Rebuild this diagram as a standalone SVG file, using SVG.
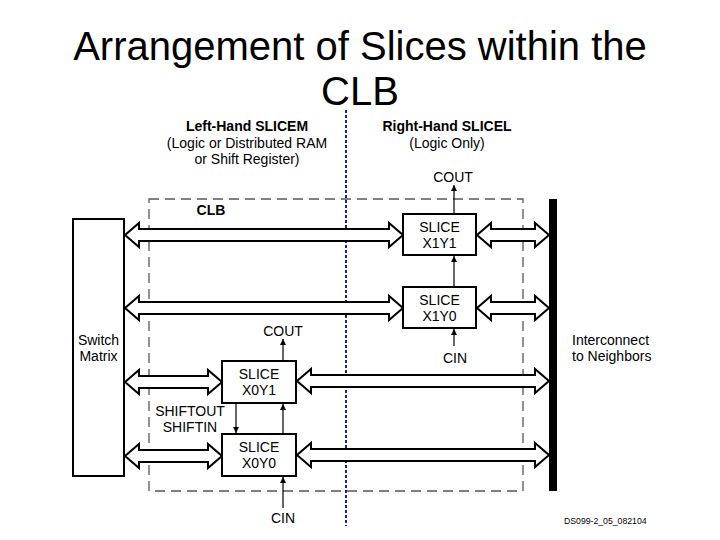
<svg xmlns="http://www.w3.org/2000/svg" width="720" height="540" viewBox="0 0 720 540">
<style>
text{font-family:"Liberation Sans",Arial,sans-serif;fill:#000}
.title{font-size:40px}
.lbl{font-size:14px}
.b{font-weight:bold}
.slice{fill:#fff;stroke:#000;stroke-width:2}
.bus{fill:#fff;stroke:#000;stroke-width:2;stroke-linejoin:miter}
.wire{stroke:#000;stroke-width:1.2;fill:none}
</style>
<defs>
<marker id="ah" viewBox="0 0 8 8" refX="8" refY="4" markerWidth="6" markerHeight="6" markerUnits="userSpaceOnUse" orient="auto">
<path d="M0,0 L8,4 L0,8 z" fill="#000"/>
</marker>
</defs>
<rect width="720" height="540" fill="#fff"/>
<text class="title" x="360" y="60" text-anchor="middle">Arrangement of Slices within the</text>
<text class="title" x="360" y="105" text-anchor="middle">CLB</text>

<line x1="346" y1="110" x2="346" y2="526" stroke="#1a237e" stroke-width="2" stroke-dasharray="3,2"/>
<rect id="clb" x="149" y="199" width="374" height="292" fill="none" stroke="#555" stroke-width="1.3" stroke-dasharray="10,6"/>

<text class="lbl b" x="247" y="131" text-anchor="middle">Left-Hand SLICEM</text>
<text class="lbl" x="247" y="148" text-anchor="middle">(Logic or Distributed RAM</text>
<text class="lbl" x="247" y="164" text-anchor="middle">or Shift Register)</text>
<text class="lbl b" x="447" y="131" text-anchor="middle">Right-Hand SLICEL</text>
<text class="lbl" x="447" y="148" text-anchor="middle">(Logic Only)</text>
<text class="lbl b" x="211" y="215" text-anchor="middle">CLB</text>

<g id="switch-matrix">
<rect x="73" y="219" width="51" height="257" fill="#fff" stroke="#000" stroke-width="2"/>
<text class="lbl" x="98.5" y="345" text-anchor="middle">Switch</text>
<text class="lbl" x="98.5" y="361" text-anchor="middle">Matrix</text>
</g>

<g id="interconnect">
<rect x="549" y="199" width="8" height="292" fill="#000"/>
<text class="lbl" x="572" y="345">Interconnect</text>
<text class="lbl" x="572" y="361">to Neighbors</text>
</g>

<g id="connectors">
<polygon class="bus" points="125,235 139,223 139,229 389,229 389,223 403,235 389,247 389,241 139,241 139,247"/>
<polygon class="bus" points="477,235 491,223 491,229 535,229 535,223 549,235 535,247 535,241 491,241 491,247"/>
<polygon class="bus" points="125,308 139,296 139,302 389,302 389,296 403,308 389,320 389,314 139,314 139,320"/>
<polygon class="bus" points="477,308 491,296 491,302 535,302 535,296 549,308 535,320 535,314 491,314 491,320"/>
<polygon class="bus" points="125,382 139,370 139,376 208,376 208,370 222,382 208,394 208,388 139,388 139,394"/>
<polygon class="bus" points="297,381 311,369 311,375 535,375 535,369 549,381 535,393 535,387 311,387 311,393"/>
<polygon class="bus" points="125,456 139,444 139,450 208,450 208,444 222,456 208,468 208,462 139,462 139,468"/>
<polygon class="bus" points="297,455 311,443 311,449 535,449 535,443 549,455 535,467 535,461 311,461 311,467"/>

<line class="wire" x1="454" y1="214" x2="454" y2="185" marker-end="url(#ah)"/>
<line class="wire" x1="454" y1="287" x2="454" y2="256" marker-end="url(#ah)"/>
<line class="wire" x1="454" y1="346" x2="454" y2="329" marker-end="url(#ah)"/>
<line class="wire" x1="283" y1="361" x2="283" y2="339" marker-end="url(#ah)"/>
<line class="wire" x1="283" y1="434" x2="283" y2="404" marker-end="url(#ah)"/>
<line class="wire" x1="283" y1="508" x2="283" y2="477" marker-end="url(#ah)"/>
<line class="wire" x1="236" y1="403" x2="236" y2="433" marker-end="url(#ah)"/>
</g>

<text class="lbl" x="453" y="182" text-anchor="middle">COUT</text>
<text class="lbl" x="455" y="363" text-anchor="middle">CIN</text>
<text class="lbl" x="283" y="336" text-anchor="middle">COUT</text>
<text class="lbl" x="283" y="523" text-anchor="middle">CIN</text>
<text class="lbl" x="190" y="416" text-anchor="middle">SHIFTOUT</text>
<text class="lbl" x="190" y="432" text-anchor="middle">SHIFTIN</text>

<g id="slice-x1y1">
<rect class="slice" x="403" y="214" width="73" height="41"/>
<text class="lbl" x="439.5" y="232" text-anchor="middle">SLICE</text>
<text class="lbl" x="439.5" y="248" text-anchor="middle">X1Y1</text>
</g>
<g id="slice-x1y0">
<rect class="slice" x="403" y="287" width="73" height="41"/>
<text class="lbl" x="439.5" y="305" text-anchor="middle">SLICE</text>
<text class="lbl" x="439.5" y="321" text-anchor="middle">X1Y0</text>
</g>
<g id="slice-x0y1">
<rect class="slice" x="222" y="361" width="74" height="42"/>
<text class="lbl" x="259" y="379" text-anchor="middle">SLICE</text>
<text class="lbl" x="259" y="395" text-anchor="middle">X0Y1</text>
</g>
<g id="slice-x0y0">
<rect class="slice" x="222" y="434" width="74" height="42"/>
<text class="lbl" x="259" y="452" text-anchor="middle">SLICE</text>
<text class="lbl" x="259" y="468" text-anchor="middle">X0Y0</text>
</g>

<text x="564" y="524" style="font-size:8.7px">DS099-2_05_082104</text>
</svg>
